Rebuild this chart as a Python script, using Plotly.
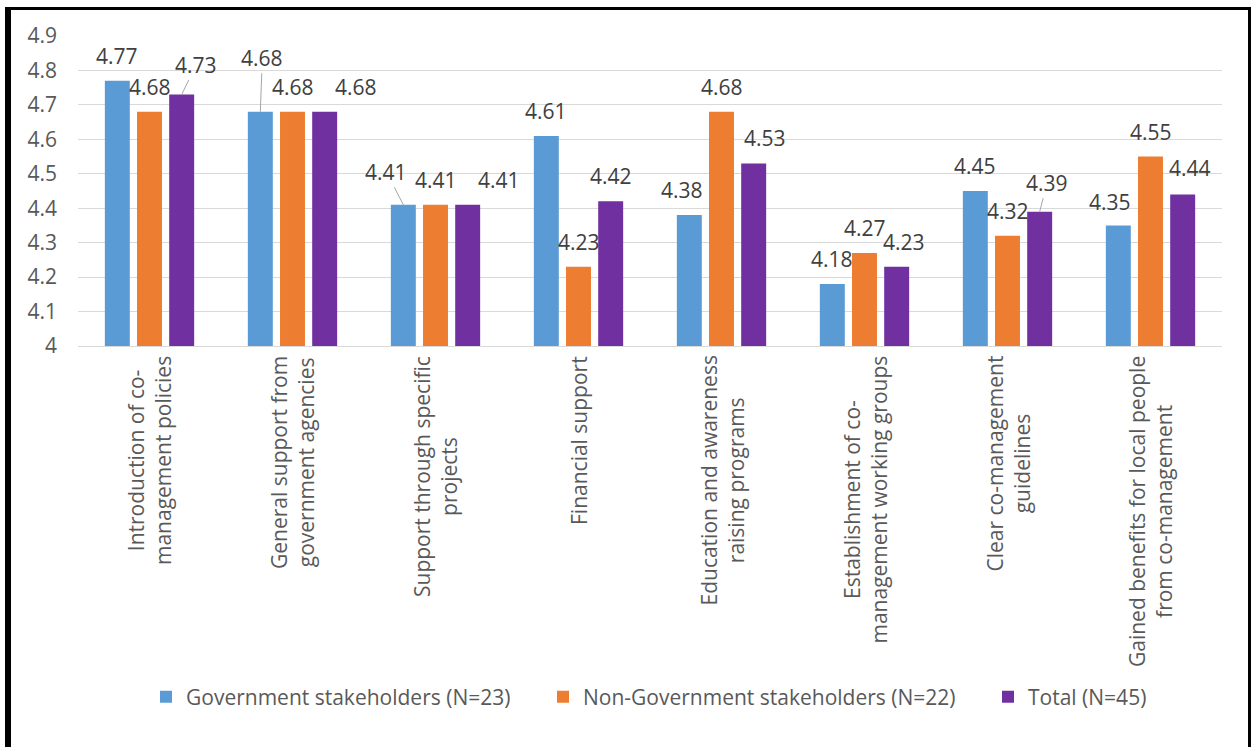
import plotly.graph_objects as go

categories = [
    "Introduction of co-<br>management policies",
    "General support from<br>government agencies",
    "Support through specific<br>projects",
    "Financial support",
    "Education and awareness<br>raising programs",
    "Establishment of co-<br>management working groups",
    "Clear co-management<br>guidelines",
    "Gained benefits for local people<br>from co-management",
]
series_names = [
    "Government stakeholders (N=23)",
    "Non-Government stakeholders (N=22)",
    "Total (N=45)",
]
gov_values = [4.77, 4.68, 4.41, 4.61, 4.38, 4.18, 4.45, 4.35]
nongov_values = [4.68, 4.68, 4.41, 4.23, 4.68, 4.27, 4.32, 4.55]
total_values = [4.73, 4.68, 4.41, 4.42, 4.53, 4.23, 4.39, 4.44]
y_ticks = [4.0, 4.1, 4.2, 4.3, 4.4, 4.5, 4.6, 4.7, 4.8, 4.9]

# ---- styling / label placement (pixels) ----
colors = ["#5B9BD5", "#ED7D31", "#7030A0"]
# (dx, dy, leader) for data labels, per series, per category
label_place = [
    [(0, 25, False), (2, 54, True), (-17, 33, True), (0, 25, False),
     (-7.5, 25, False), (0, 25, False), (0, 25, False), (-8.5, 23, False)],
    [(0, 25, False)] * 8,
    [(14.5, 30, True), (31.5, 25, False), (31.5, 25, False), (0, 25, False),
     (11, 25, False), (7.5, 25, False), (7.5, 29, True), (7.5, 26.5, False)],
]
legend_left_px = [146, 543, 988]   # left edge of each legend entry box
legend_keys = ["legend", "legend2", "legend3"]

W, H = 1251, 747
ML, MR, MT, MB = 78, 29, 36, 401
PW, PH = W - ML - MR, H - MT - MB
BARGAP, GROUPGAP = 0.325, 0.224
FONT = "Open Sans"
TXT = "#595959"


def px_x(x):
    return (x - ML) / PW


def px_y(y):
    return (H - MB - y) / PH


all_values = [gov_values, nongov_values, total_values]
fig = go.Figure()
for name, vals, col, lg in zip(series_names, all_values, colors, legend_keys):
    fig.add_trace(go.Bar(x=categories, y=vals, name=name, marker_color=col,
                         marker_line_width=0, legend=lg))

annotations = []
slot = (1 - BARGAP) / 3
for s, vals in enumerate(all_values):
    for i, v in enumerate(vals):
        dx, dy, leader = label_place[s][i]
        xpos = i + (s - 1) * slot
        common = dict(x=xpos, y=v, xref="x", yref="y", text=f"{v:.2f}",
                      font=dict(family=FONT, size=21, color="#404040"))
        if leader:
            annotations.append(dict(**common, showarrow=True, arrowhead=0,
                                    arrowwidth=1, arrowcolor="#A6A6A6",
                                    ax=dx, ay=-dy, standoff=0))
        else:
            annotations.append(dict(**common, showarrow=False,
                                    xshift=dx, yshift=dy))

for i, c in enumerate(categories):
    annotations.append(dict(x=i, y=0, xref="x", yref="paper", text=c,
                            textangle=-90, showarrow=False, align="center",
                            yanchor="top", xanchor="center", yshift=-8,
                            font=dict(family=FONT, size=21, color=TXT)))

shapes = [
    dict(type="rect", xref="paper", yref="paper", x0=px_x(5), x1=px_x(11),
         y0=px_y(7), y1=px_y(748), fillcolor="black", line_width=0),
    dict(type="rect", xref="paper", yref="paper", x0=px_x(5), x1=px_x(1251),
         y0=px_y(7), y1=px_y(10), fillcolor="black", line_width=0),
    dict(type="rect", xref="paper", yref="paper", x0=px_x(1248), x1=px_x(1251),
         y0=px_y(7), y1=px_y(748), fillcolor="black", line_width=0),
]

legend_common = dict(orientation="h", xanchor="left", yanchor="middle",
                     y=px_y(697), bgcolor="rgba(0,0,0,0)",
                     font=dict(family=FONT, size=21, color=TXT))
legends = {k: dict(**legend_common, x=px_x(xl))
           for k, xl in zip(legend_keys, legend_left_px)}

fig.update_layout(
    width=W, height=H,
    margin=dict(l=ML, r=MR, t=MT, b=MB),
    paper_bgcolor="white", plot_bgcolor="white",
    barmode="group", bargap=BARGAP, bargroupgap=GROUPGAP,
    font=dict(family=FONT, size=21, color=TXT),
    annotations=annotations, shapes=shapes,
    showlegend=True,
    xaxis=dict(showticklabels=False, showline=True, linecolor="#D9D9D9",
               linewidth=1, ticks=""),
    yaxis=dict(range=[4, 4.9], tickvals=y_ticks, showgrid=True,
               gridcolor="#D9D9D9", gridwidth=1, zeroline=False,
               ticks="", ticklabelstandoff=20,
               tickfont=dict(family=FONT, size=21, color=TXT)),
    **legends,
)

fig.write_html("out.html")
